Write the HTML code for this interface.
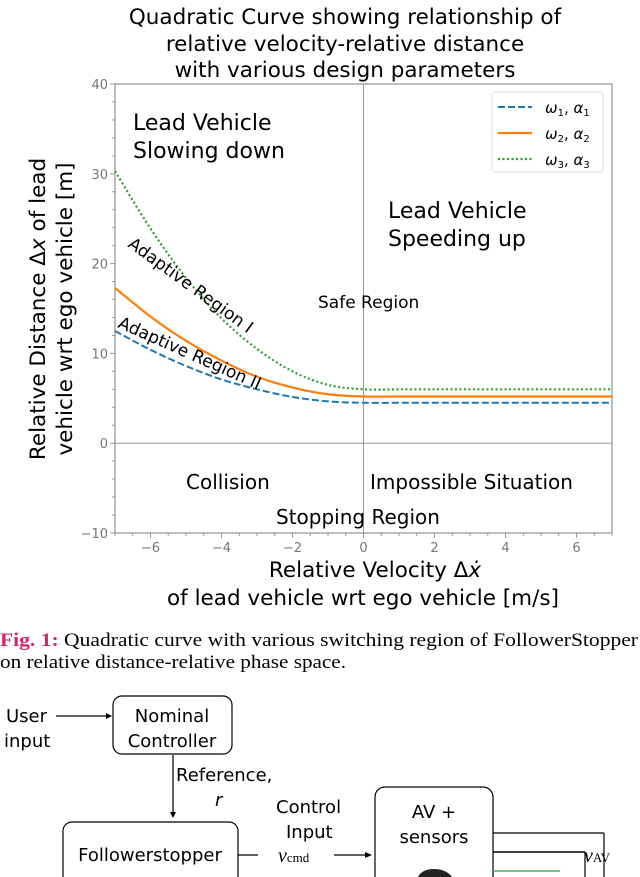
<!DOCTYPE html>
<html><head><meta charset="utf-8">
<style>
body{margin:0;width:640px;height:877px;overflow:hidden;background:#fff;font-family:"DejaVu Sans","Liberation Sans",sans-serif}
svg{position:absolute;left:0;top:0}
</style></head>
<body>
<svg width="640" height="877" id="svg">
<g id="chart"></g>
<g font-size="21.5" text-anchor="middle" fill="#000">
<text x="345" y="24">Quadratic Curve showing relationship of</text>
<text x="345" y="51">relative velocity-relative distance</text>
<text x="345" y="77">with various design parameters</text>
</g>
<g font-size="21.5" text-anchor="middle">
<text transform="translate(45,309) rotate(-90)">Relative Distance Δ<tspan font-style="italic">x</tspan> of lead</text>
<text transform="translate(72,309) rotate(-90)">vehicle wrt ego vehicle [m]</text>
</g>
<g font-size="21.5" text-anchor="middle">
<text x="375" y="577">Relative Velocity Δ<tspan font-style="italic">ẋ</tspan></text>
<text x="363" y="605">of lead vehicle wrt ego vehicle [m/s]</text>
</g>
<g font-family="Liberation Serif,serif" font-size="19">
<text x="0" y="646" textLength="638" lengthAdjust="spacingAndGlyphs"><tspan fill="#d6246e" font-weight="bold">Fig. 1:</tspan> Quadratic curve with various switching region of FollowerStopper</text>
<text x="0" y="668" textLength="346" lengthAdjust="spacingAndGlyphs">on relative distance-relative phase space.</text>
</g>
<g font-size="18" fill="#000" stroke="none">
<text x="6" y="722">User</text><text x="4" y="747">input</text>
<line x1="56" y1="716" x2="110" y2="716" stroke="#000" stroke-width="1.2"/>
<polygon points="112,716 106,713 106,719" fill="#000"/>
<rect x="113" y="696" width="119" height="58" rx="9" fill="none" stroke="#000" stroke-width="1.2"/>
<text x="172" y="722" text-anchor="middle">Nominal</text>
<text x="172" y="747" text-anchor="middle">Controller</text>
<line x1="173" y1="755" x2="173" y2="815" stroke="#000" stroke-width="1.2"/>
<polygon points="173,818 170,812 176,812" fill="#000"/>
<text x="176" y="781">Reference,</text>
<text x="215" y="806" font-style="italic">r</text>
<rect x="63" y="822" width="175" height="70" rx="9" fill="none" stroke="#000" stroke-width="1.2"/>
<text x="150" y="861" text-anchor="middle">Followerstopper</text>
<line x1="238" y1="855" x2="258" y2="855" stroke="#000" stroke-width="1.2"/>
<text x="276" y="813">Control</text><text x="286" y="838">Input</text>
<text x="278" y="862" font-family="Liberation Serif,serif" font-style="italic" font-size="20">v<tspan font-style="normal" font-size="13">cmd</tspan></text>
<line x1="334" y1="855" x2="368" y2="855" stroke="#000" stroke-width="1.2"/>
<polygon points="372,855 365,852 365,858" fill="#000"/>
<rect x="375" y="787" width="118" height="100" rx="10" fill="none" stroke="#000" stroke-width="1.2"/>
<text x="434" y="818" text-anchor="middle">AV +</text>
<text x="434" y="843" text-anchor="middle">sensors</text>
<path d="M418,877 q4,-8 16,-8 q12,0 18,8z" fill="#222"/>
<line x1="493" y1="833" x2="604" y2="833" stroke="#000" stroke-width="1.2"/>
<line x1="604" y1="833" x2="604" y2="877" stroke="#000" stroke-width="1.2"/>
<line x1="493" y1="852" x2="585" y2="852" stroke="#000" stroke-width="1.5"/>
<line x1="585" y1="852" x2="585" y2="877" stroke="#000" stroke-width="1.2"/>
<line x1="493" y1="871" x2="560" y2="871" stroke="#4a6" stroke-width="1.5"/>
<text x="584" y="862" font-family="Liberation Serif,serif" font-style="italic" font-size="20">v<tspan font-style="normal" font-size="13">AV</tspan></text>
</g>
</svg>
<script>
const xTicks=[-6,-4,-2,0,2,4,6];
const yTicks=[-10,0,10,20,30,40];
const xVals=[-7,-6,-5,-4,-3,-2,-1,0,1,2,3,4,5,6,7];
const series1=[12.5,10.4,8.6,7.1,6.0,5.15,4.66,4.5,4.5,4.5,4.5,4.5,4.5,4.5,4.5];
const series2=[17.3,14.1,11.4,9.2,7.4,6.2,5.45,5.2,5.2,5.2,5.2,5.2,5.2,5.2,5.2];
const series3=[30.3,23.9,18.4,13.9,10.5,8.0,6.5,6.0,6.0,6.0,6.0,6.0,6.0,6.0,6.0];
const NS='http://www.w3.org/2000/svg';
const L=115,R=612,T=84,B=533;
const sx=v=>L+(v+7)/14*(R-L);
const sy=v=>B-(v+10)/50*(B-T);
const g=document.getElementById('chart');
function mk(t,a){const e=document.createElementNS(NS,t);for(const k in a)e.setAttribute(k,a[k]);g.appendChild(e);return e;}
let e;
e=mk('rect',{x:L,y:T,width:R-L,height:B-T,fill:'none',stroke:'#999','stroke-width':1.3});


e=mk('line',{x1:sx(0),x2:sx(0),y1:T,y2:B,stroke:'#999','stroke-width':1});


e=mk('line',{x1:L,x2:R,y1:sy(0),y2:sy(0),stroke:'#999','stroke-width':1});


for(let v=-7;v<=7;v+=0.5){mk('line',{x1:sx(v),x2:sx(v),y1:B,y2:B+(v%2===0?5:3),stroke:'#999'});}
for(let v=-10;v<=40;v+=2){mk('line',{x1:L,x2:L-(v%10===0?5:3),y1:sy(v),y2:sy(v),stroke:'#999'});}
xTicks.forEach(v=>{e=mk('text',{x:sx(v),y:B+19,'text-anchor':'middle','font-size':13,fill:'#777'});e.textContent=(v<0?'−':'')+Math.abs(v);

});
yTicks.forEach(v=>{e=mk('text',{x:L-7,y:sy(v)+5,'text-anchor':'end','font-size':13,fill:'#777'});e.textContent=(v<0?'−':'')+Math.abs(v);

});
function path(ys){const p=xVals.map((x,i)=>[sx(x),sy(ys[i])]);let d='M'+p[0];for(let i=0;i<p.length-1;i++){const p0=p[i-1]||p[i],p1=p[i],p2=p[i+1],p3=p[i+2]||p2;d+=` C${p1[0]+(p2[0]-p0[0])/6},${p1[1]+(p2[1]-p0[1])/6} ${p2[0]-(p3[0]-p1[0])/6},${p2[1]-(p3[1]-p1[1])/6} ${p2[0]},${p2[1]}`;}return d;}
e=mk('path',{d:path(series1),fill:'none',stroke:'#1f77b4','stroke-width':2,'stroke-dasharray':'7,3'});


e=mk('path',{d:path(series2),fill:'none',stroke:'#ff7f0e','stroke-width':2.2});


e=mk('path',{d:path(series3),fill:'none',stroke:'#2ca02c','stroke-width':2.2,'stroke-dasharray':'2,2.5'});


e=mk('rect',{x:492,y:92,width:111,height:80,rx:3,fill:'#fff',stroke:'#ddd'});


[['#1f77b4','7,3',2,1],['#ff7f0e','',2.2,2],['#2ca02c','2,2.5',2.2,3]].forEach((s,i)=>{const y=107+i*26;
e=mk('line',{x1:498,x2:532,y1:y,y2:y,stroke:s[0],'stroke-width':s[2],'stroke-dasharray':s[1]});


e=mk('text',{x:545,y:y+6,'font-size':15,'font-style':'italic'});e.innerHTML=`ω<tspan font-size="10" font-style="normal" dy="3">${s[3]}</tspan><tspan dy="-3" font-style="normal">, </tspan>α<tspan font-size="10" font-style="normal" dy="3">${s[3]}</tspan>`;

});
const labels=[[133,130,'Lead Vehicle',22,0],[133,158,'Slowing down',22,0],[388,218,'Lead Vehicle',22,0],[388,246,'Speeding up',22,0],[318,308,'Safe Region',17,0],[186,489,'Collision',20,0],[370,489,'Impossible Situation',20,0],[276,524,'Stopping Region',20,0]];
labels.forEach(l=>{e=mk('text',{x:l[0],y:l[1],'font-size':l[3]});e.textContent=l[2];

});
e=mk('text',{x:0,y:0,'font-size':17,transform:'translate(127,246) rotate(36)'});e.textContent='Adaptive Region I';


e=mk('text',{x:0,y:0,'font-size':17,transform:'translate(117,327) rotate(24)'});e.textContent='Adaptive Region II';


</script>
</body></html>
